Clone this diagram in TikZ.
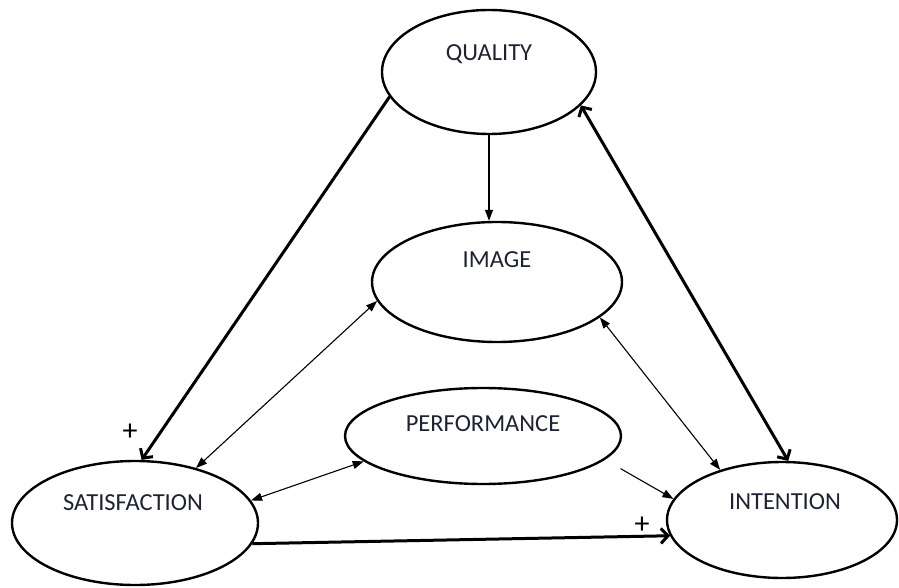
\documentclass[tikz,border=0pt]{standalone}
\usepackage{fontspec}
\setmainfont{Carlito}
\usetikzlibrary{shapes.geometric,arrows.meta}
\definecolor{labtext}{HTML}{1E2233}
\begin{document}
\begin{tikzpicture}[x=1pt,y=1pt,
  var/.style={draw,ellipse,line width=2.4pt,inner sep=0pt},
  lab/.style={text=labtext,font=\fontsize{24.5}{26}\selectfont,inner sep=0pt,text depth=0pt},
  bigarr/.style={line width=3pt,-{Straight Barb[length=7pt,width=15pt]}},
  bigboth/.style={line width=3pt,{Straight Barb[length=7pt,width=15pt]}-{Straight Barb[length=7pt,width=15pt]}},
  thinarr/.style={line width=1.1pt,-{Triangle[length=11pt,width=8pt]}},
  thinboth/.style={line width=1.1pt,{Triangle[length=11pt,width=8pt]}-{Triangle[length=11pt,width=8pt]}}]
\useasboundingbox (0,0) rectangle (899,587);
% constructs
\node[var,minimum width=214,minimum height=124] (qual) at (489,515) {};
\node[var,minimum width=250,minimum height=120] (img) at (497,305) {};
\node[var,minimum width=276,minimum height=96] (perf) at (483,151) {};
\node[var,minimum width=246,minimum height=124] (sat) at (135,64) {};
\node[var,minimum width=230,minimum height=116] (int) at (782,67) {};
\node[lab] (qualt) at ([yshift=19.5]qual.center) {QUALITY};
\node[lab] (imgt) at ([yshift=22]img.center) {IMAGE};
\node[lab] (perft) at ([yshift=12]perf.center) {PERFORMANCE};
\node[lab] (satt) at ([xshift=-2,yshift=20]sat.center) {SATISFACTION};
\node[lab] (intt) at ([xshift=3,yshift=18.5]int.center) {INTENTION};
% links
\draw[bigarr] (qual.194) -- (sat.84);
\draw[bigboth] (int.84) -- (qual.340);
\draw[thinarr] (qual.south) -- (qual.south |- img.north);
\draw[thinboth] (img.189) -- (sat.42);
\draw[thinboth] (img.341) -- (int.141);
\draw[thinboth] (perf.192) -- (sat.11);
\draw[thinarr,shorten <=18pt] (perf.349) -- (int.169);
\draw[bigarr] (sat.350) -- (int.188);
\node[font=\fontsize{30}{32}\selectfont] (plus1) at (130,155) {+};
\node[font=\fontsize{30}{32}\selectfont] (plus2) at (642,62) {+};
\end{tikzpicture}
\end{document}
